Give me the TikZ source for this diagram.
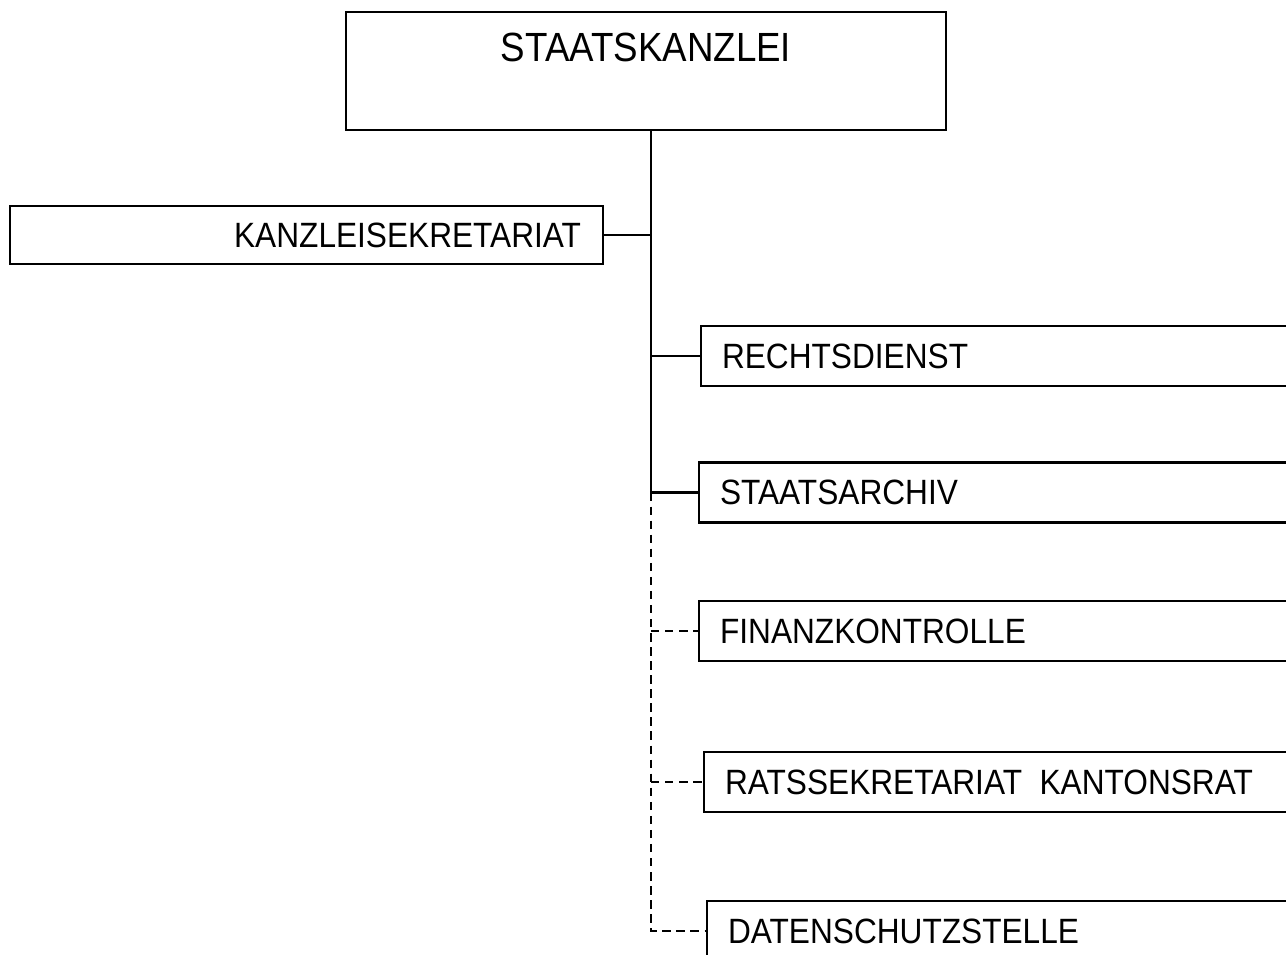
\documentclass[tikz,border=0pt]{standalone}
\usepackage{fontspec}
\setmainfont{Liberation Sans}[FakeStretch=0.9]

\begin{document}
\begin{tikzpicture}[
    unitbox/.style={draw, line width=0.6pt, minimum height=0.6cm, inner xsep=0.21cm,
        text width=6.2cm, align=left, anchor=west, font=\fontsize{10}{12}\selectfont},
    link/.style={line width=0.7pt},
    dashlink/.style={line width=0.6pt, dash pattern=on 2.4pt off 1.6pt}
]
    % Page frame
    \useasboundingbox (0,0) rectangle (12.86,-9.55);
    \clip (0,0) rectangle (12.86,-9.55);

    % Head of the office
    \node[draw, line width=0.6pt, minimum width=6cm, minimum height=1.18cm] (kanzlei) at (6.46,-0.71) {};
    \node[font=\fontsize{11.6}{14}\selectfont] (kanzleitext) at (6.46,-0.47) {STAATSKANZLEI};

    % Staff unit on the left
    \node[draw, line width=0.6pt, minimum height=0.58cm, inner xsep=0.22cm, text width=5.49cm,
        align=right, font=\fontsize{10}{12}\selectfont] (sekretariat) at (3.065,-2.35) {KANZLEISEKRETARIAT};

    % Departments on the right
    \node[unitbox] (recht) at (7.00,-3.56) {RECHTSDIENST};
    \node[unitbox] (archiv) at (6.98,-4.925) {STAATSARCHIV};
    \node[unitbox] (finanz) at (6.98,-6.31) {FINANZKONTROLLE};
    \node[unitbox] (rats) at (7.03,-7.82) {RATSSEKRETARIAT\hspace{0.5em}KANTONSRAT};
    \node[unitbox] (daten) at (7.06,-9.31) {DATENSCHUTZSTELLE};

    % Trunk line
    \coordinate (stamm) at (6.51,-1.30);
    \draw[link] (stamm) -- (stamm |- archiv.west);
    \draw[link] (sekretariat.east) -- (sekretariat.east -| stamm);

    % Solid branches
    \foreach \unit in {recht, archiv}
        \draw[link] (stamm |- \unit.west) -- (\unit.west);

    % Dashed branches
    \draw[dashlink] (stamm |- archiv.west) -- (stamm |- daten.west) -- (daten.west);
    \foreach \unit in {finanz, rats}
        \draw[dashlink] (stamm |- \unit.west) -- (\unit.west);
\end{tikzpicture}
\end{document}
